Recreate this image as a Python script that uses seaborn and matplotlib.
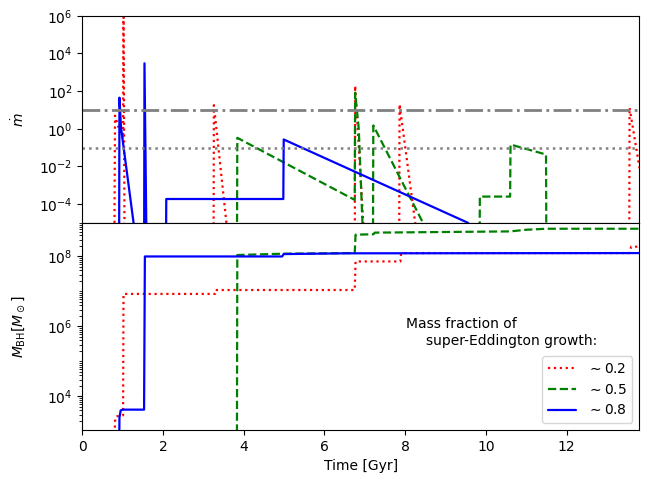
import matplotlib
matplotlib.use('Agg')
import matplotlib.pyplot as plt
from matplotlib.ticker import LogLocator, NullLocator, NullFormatter
import seaborn as sns
import numpy as np

# --- accretion rate (top panel) ---
t_mdot_02 = [0.0, 0.79, 0.81, 0.95, 1.01, 1.02, 1.05, 3.25, 3.26, 3.62, 6.75, 6.76, 6.99,
             7.85, 7.86, 8.31, 13.55, 13.56, 13.9]
mdot_02 = [1e-8, 1e-8, 5.0, 0.5, 0.3, 3e7, 1e-8, 1e-8, 18.0, 1e-6, 1e-8, 190.0, 1e-6,
           1e-8, 20.0, 1e-6, 1e-8, 13.0, 5e-4]

t_mdot_05 = [0.0, 3.83, 3.84, 6.75, 6.76, 6.85, 6.96, 7.20, 7.21, 8.68, 9.84, 9.85, 10.60,
             10.61, 11.49, 11.50, 13.9]
mdot_05 = [1e-8, 1e-8, 0.33, 1.66e-4, 83.0, 1.0, 1e-6, 1e-8, 1.5, 1e-6, 1e-8, 2.5e-4, 2.5e-4,
           0.145, 0.043, 1e-8, 1e-8]

t_mdot_08 = [0.0, 0.91, 0.92, 0.96, 1.27, 1.30, 1.53, 1.54, 1.60, 2.07, 2.08, 4.98, 4.99,
             9.56, 9.57, 13.9]
mdot_08 = [1e-8, 1e-8, 45.0, 1.1, 1e-5, 1e-6, 1e-8, 3000.0, 1e-8, 1e-8, 1.86e-4, 1.86e-4, 0.27,
           1e-5, 1e-8, 1e-8]

# --- black hole mass (bottom panel) ---
t_mbh_02 = [0.0, 0.79, 0.81, 0.84, 1.01, 1.02, 3.29, 3.30, 6.75, 6.77, 7.88, 7.90, 13.55,
            13.60, 13.9]
mbh_02 = [100, 100, 2000, 2700, 2900, 8.5e6, 8.5e6, 1.1e7, 1.1e7, 7.2e7, 7.2e7, 1.25e8, 1.25e8,
          1.9e8, 1.9e8]

t_mbh_05 = [0.0, 3.83, 3.84, 4.99, 6.75, 6.77, 7.21, 7.25, 10.60, 11.0, 11.5, 13.9]
mbh_05 = [100, 100, 1.1e8, 1.2e8, 1.25e8, 4.2e8, 4.3e8, 4.8e8, 5.2e8, 5.8e8, 6.2e8, 6.2e8]

t_mbh_08 = [0.0, 0.91, 0.92, 0.95, 1.00, 1.53, 1.55, 4.95, 4.99, 6.5, 13.9]
mbh_08 = [100, 100, 2500, 4000, 4200, 4200, 1.0e8, 1.0e8, 1.17e8, 1.23e8, 1.25e8]

labels = [r'$\sim0.2$', r'$\sim0.5$', r'$\sim0.8$']
colors = ['red', 'green', 'blue']
styles = [':', '--', '-']

sns.set_style('ticks', rc={'axes.edgecolor': 'black', 'xtick.color': 'black',
                           'ytick.color': 'black', 'text.color': 'black',
                           'axes.labelcolor': 'black'})
plt.rcParams['font.family'] = ['DejaVu Sans']
plt.rcParams['font.size'] = 10

fig = plt.figure(figsize=(6.57, 4.79), dpi=100)
ax1, ax2 = fig.subplots(2, 1, sharex=True)
fig.subplots_adjust(left=0.1253, right=0.973, top=0.967, bottom=0.1023, hspace=0)

top_series = [(t_mdot_02, mdot_02), (t_mdot_05, mdot_05), (t_mdot_08, mdot_08)]
bot_series = [(t_mbh_02, mbh_02), (t_mbh_05, mbh_05), (t_mbh_08, mbh_08)]

for (t, m), c, ls in zip(top_series, colors, styles):
    sns.lineplot(x=t, y=m, ax=ax1, color=c, linestyle=ls, linewidth=1.6,
                 estimator=None, sort=False)
ax1.axhline(10, color='gray', linestyle='-.', linewidth=2)
ax1.axhline(0.1, color='gray', linestyle=':', linewidth=1.8)
ax1.set_yscale('log')
ax1.set_ylim(1e-5, 1e6)
ax1.yaxis.set_major_locator(LogLocator(base=100))
ax1.yaxis.set_minor_locator(NullLocator())
ax1.set_ylabel(r'$\dot{m}$')

for (t, m), c, ls, lab in zip(bot_series, colors, styles, labels):
    sns.lineplot(x=t, y=m, ax=ax2, color=c, linestyle=ls, linewidth=1.6,
                 estimator=None, sort=False, label=lab)
ax2.set_yscale('log')
ax2.set_ylim(1.1e3, 9.1e8)
ax2.yaxis.set_major_locator(LogLocator(base=100))
ax2.yaxis.set_minor_locator(LogLocator(base=10, subs=np.arange(1, 10), numticks=30))
ax2.yaxis.set_minor_formatter(NullFormatter())
ax2.set_xlim(0, 13.8)
ax2.set_xlabel('Time [Gyr]')
ax2.set_ylabel(r'$M_{\rm BH} [M_\odot]$')
ax2.legend(loc='lower right')
ax2.text(0.581, 0.491, 'Mass fraction of', transform=ax2.transAxes, ha='left', va='baseline')
ax2.text(0.617, 0.411, 'super-Eddington growth:', transform=ax2.transAxes, ha='left',
         va='baseline')

for ax in (ax1, ax2):
    ax.tick_params(which='major', length=3.5, width=0.8)
    ax.tick_params(which='minor', length=2, width=0.6)
    for s in ax.spines.values():
        s.set_visible(True)
        s.set_linewidth(0.8)
    ax.yaxis.set_label_coords(-0.10, 0.5)

fig.savefig('out.png', dpi=100)
